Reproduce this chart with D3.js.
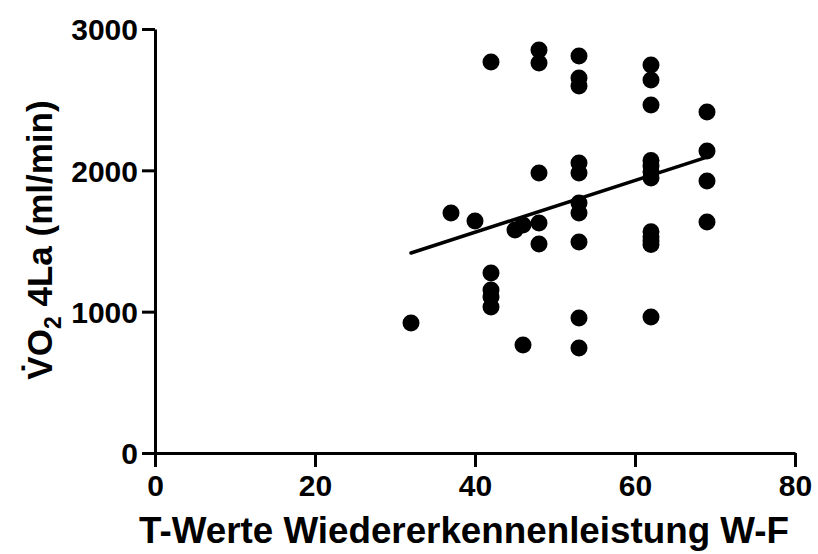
<!DOCTYPE html>
<html>
<head>
<meta charset="utf-8">
<script src="https://cdn.jsdelivr.net/npm/d3@7"></script>
<style>
  body { margin: 0; background: #fff; }
  text { font-family: "Liberation Sans", Arial, sans-serif; font-weight: bold; fill: #000; }
</style>
</head>
<body>
<script>
// Data: T-Werte (x) vs VO2 4La (y)
var tWerte = [32, 37, 40, 42, 42, 42, 42, 42, 45, 46, 46,
              48, 48, 48, 48, 48,
              53, 53, 53, 53, 53, 53, 53, 53, 53, 53,
              62, 62, 62, 62, 62, 62, 62, 62, 62, 62, 62, 62,
              69, 69, 69, 69];
var vo2 = [920, 1698, 1642, 2767, 1274, 1153, 1104, 1033, 1578, 1613, 764,
           2852, 2760, 1981, 1627, 1479,
           2809, 2653, 2597, 2052, 1981, 1769, 1698, 1493, 955, 743,
           2745, 2639, 2462, 2070, 2030, 1990, 1945, 1565, 1530, 1500, 1475, 962,
           2413, 2137, 1925, 1634];

// regression line ends
var fitX = [32, 69];
var fitY = [1415, 2094];

var xTicks = [0, 20, 40, 60, 80];
var yTicks = [0, 1000, 2000, 3000];

var W = 818, H = 554;

var svg = d3.select("body").append("svg")
    .attr("width", W)
    .attr("height", H);

var x = d3.scaleLinear().domain([0, 80]).range([155, 795]);
var y = d3.scaleLinear().domain([0, 3000]).range([453, 29]);

// axes
var xAxis = svg.append("g")
    .attr("transform", "translate(0," + y(0) + ")")
    .call(d3.axisBottom(x).tickValues(xTicks).tickFormat(d3.format("d"))
        .tickSize(14).tickPadding(8).tickSizeOuter(0));
var yAxis = svg.append("g")
    .attr("transform", "translate(" + x(0) + ",0)")
    .call(d3.axisLeft(y).tickValues(yTicks).tickFormat(d3.format("d"))
        .tickSize(13).tickPadding(4).tickSizeOuter(0));

[xAxis, yAxis].forEach(function(g) {
    g.attr("font-size", null).attr("font-family", null);
    g.select(".domain").attr("stroke", "#000").attr("stroke-width", 3);
    g.selectAll(".tick line").attr("stroke", "#000").attr("stroke-width", 3);
    g.selectAll(".tick text")
        .style("font-size", "30px")
        .attr("fill", "#000");
});
yAxis.selectAll(".tick text").attr("dy", "0.36em");

// points
svg.append("g")
    .selectAll("circle")
    .data(tWerte)
    .enter()
    .append("circle")
    .attr("cx", function(d) { return x(d); })
    .attr("cy", function(d, i) { return y(vo2[i]); })
    .attr("r", 8.5)
    .attr("fill", "#000");

// fit line
svg.append("line")
    .attr("x1", x(fitX[0]))
    .attr("y1", y(fitY[0]))
    .attr("x2", x(fitX[1]))
    .attr("y2", y(fitY[1]))
    .attr("stroke", "#000")
    .attr("stroke-width", 3.5)
    .attr("stroke-linecap", "round");

// axis titles
svg.append("text")
    .attr("x", 464)
    .attr("y", 543)
    .attr("text-anchor", "middle")
    .attr("textLength", 650)
    .attr("lengthAdjust", "spacingAndGlyphs")
    .style("font-size", "37px")
    .text("T-Werte Wiedererkennenleistung W-F");

var yt = svg.append("text")
    .attr("transform", "translate(52,240) rotate(-90)")
    .attr("text-anchor", "middle")
    .style("font-size", "35px");
yt.append("tspan").text("V\u0307O");
yt.append("tspan").attr("dy", 9).style("font-size", "23px").text("2");
yt.append("tspan").attr("dy", -9).text(" 4La (ml/min)");
</script>
</body>
</html>
